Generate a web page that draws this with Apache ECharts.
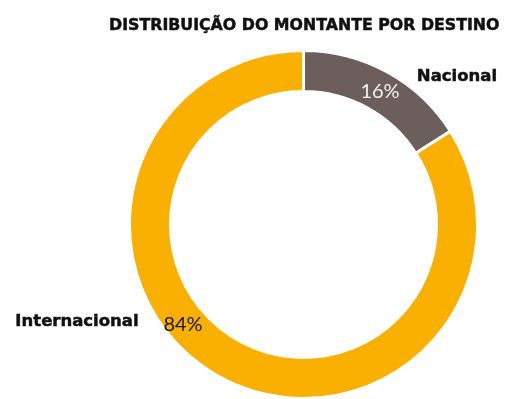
<!DOCTYPE html>
<html>
<head>
<meta charset="utf-8">
<script src="https://cdn.jsdelivr.net/npm/echarts@6/dist/echarts.min.js"></script>
<style>
  html, body { margin: 0; padding: 0; background: #fff; }
  #chart { width: 508px; height: 399px; }
</style>
</head>
<body>
<div id="chart"></div>
<script>
// Destination split of the amount
const categories = ['Nacional', 'Internacional'];
const shares = [16, 84];
const colors = ['#6B5E5C', '#F9B000'];
const pctColors = ['#F4F1F0', '#1A1718'];

// Where each name / percentage is placed
const namePos = [[457, 77], [77, 322]];
const pctPos = [[380, 92], [183, 325]];

const chart = echarts.init(document.getElementById('chart'), null, { renderer: 'canvas' });

chart.setOption({
  animation: false,
  title: {
    text: 'DISTRIBUIÇÃO DO MONTANTE POR DESTINO',
    right: 3,
    top: 13,
    textStyle: {
      fontFamily: 'DejaVu Sans', fontWeight: 'bold', fontSize: 15.8, color: '#111',
      textBorderColor: '#111', textBorderWidth: 0.5
    }
  },
  graphic: categories.map((c, i) => ({
    type: 'text',
    x: namePos[i][0],
    y: namePos[i][1],
    style: {
      text: c,
      fill: '#111',
      stroke: '#111',
      lineWidth: 0.5,
      font: 'bold 16.5px "DejaVu Sans"',
      align: 'center',
      verticalAlign: 'middle'
    }
  })),
  series: [{
    type: 'pie',
    center: [303.5, 224.5],
    radius: [133, 174],
    startAngle: 90,
    clockwise: true,
    avoidLabelOverlap: false,
    itemStyle: { borderColor: '#fff', borderWidth: 3 },
    label: {
      show: true,
      position: 'inside',
      formatter: p => p.value + '%',
      fontFamily: 'Lato',
      fontSize: 20,
      fontWeight: 'normal'
    },
    labelLine: { show: false },
    labelLayout: p => ({
      x: pctPos[p.dataIndex][0],
      y: pctPos[p.dataIndex][1],
      align: 'center',
      verticalAlign: 'middle'
    }),
    data: categories.map((c, i) => ({
      name: c,
      value: shares[i],
      itemStyle: { color: colors[i] },
      label: { color: pctColors[i] }
    }))
  }]
});
</script>
</body>
</html>
